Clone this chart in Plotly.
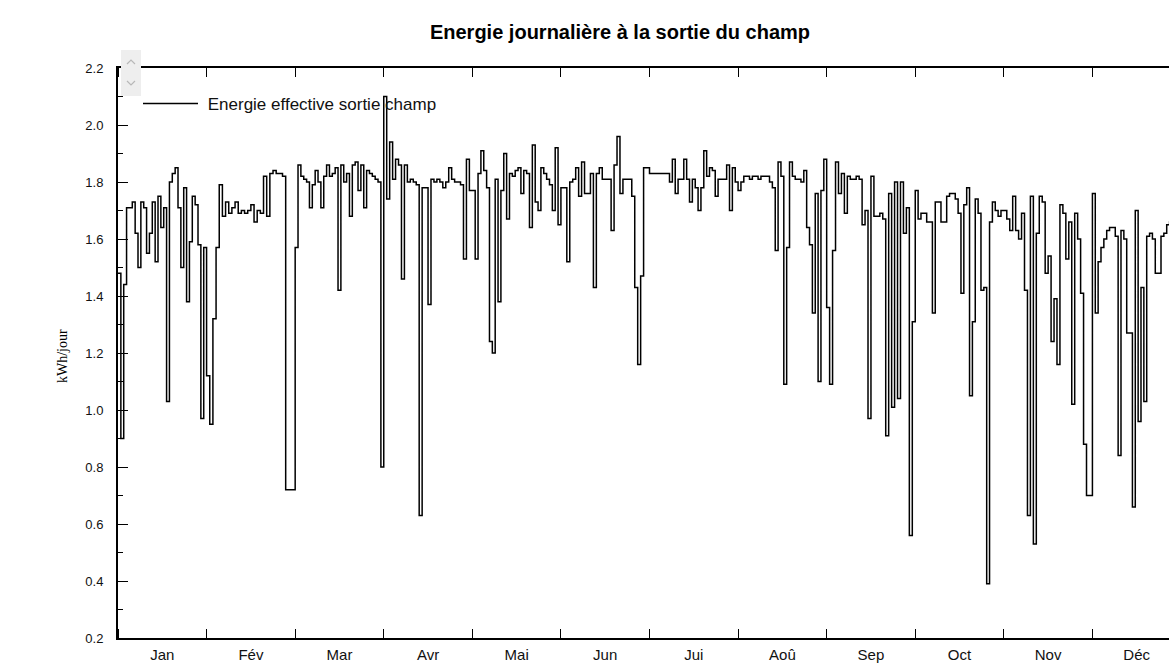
import plotly.graph_objects as go

# Daily field output energy (kWh/jour), one list per month
months = ["Jan", "Fév", "Mar", "Avr", "Mai", "Jun", "Jui", "Aoû", "Sep", "Oct", "Nov", "Déc"]

jan = [1.48, 0.90, 1.44, 1.71, 1.71, 1.73, 1.62, 1.50, 1.73, 1.71, 1.55, 1.62, 1.73, 1.52, 1.75, 1.64,
       1.71, 1.03, 1.80, 1.83, 1.85, 1.71, 1.50, 1.78, 1.38, 1.59, 1.75, 1.72, 1.58, 0.97, 1.57]
feb = [1.12, 0.95, 1.32, 1.57, 1.79, 1.68, 1.73, 1.69, 1.71, 1.73, 1.69, 1.70, 1.69, 1.70, 1.72, 1.66,
       1.70, 1.69, 1.82, 1.68, 1.83, 1.84, 1.83, 1.83, 1.82, 0.72, 0.72, 0.72]
mar = [1.57, 1.86, 1.82, 1.81, 1.80, 1.71, 1.79, 1.84, 1.80, 1.71, 1.82, 1.86, 1.82, 1.83, 1.85, 1.42,
       1.86, 1.80, 1.83, 1.68, 1.86, 1.87, 1.77, 1.86, 1.71, 1.84, 1.83, 1.82, 1.81, 1.80, 0.80]
apr = [2.10, 1.74, 1.94, 1.81, 1.88, 1.86, 1.46, 1.86, 1.80, 1.81, 1.80, 1.79, 0.63, 1.78, 1.78, 1.37,
       1.81, 1.80, 1.81, 1.80, 1.78, 1.80, 1.85, 1.81, 1.80, 1.80, 1.79, 1.53, 1.88, 1.77]
may = [1.77, 1.53, 1.83, 1.91, 1.84, 1.78, 1.24, 1.20, 1.81, 1.38, 1.77, 1.90, 1.67, 1.83, 1.82, 1.84,
       1.85, 1.76, 1.84, 1.83, 1.64, 1.93, 1.73, 1.70, 1.85, 1.83, 1.81, 1.79, 1.70, 1.92, 1.65]
jun = [1.78, 1.78, 1.52, 1.80, 1.81, 1.85, 1.75, 1.87, 1.76, 1.76, 1.83, 1.43, 1.83, 1.85, 1.81, 1.81,
       1.81, 1.63, 1.86, 1.96, 1.76, 1.81, 1.81, 1.81, 1.75, 1.43, 1.16, 1.47, 1.85, 1.85]
jul = [1.83, 1.83, 1.83, 1.83, 1.83, 1.83, 1.83, 1.80, 1.88, 1.76, 1.81, 1.81, 1.88, 1.81, 1.73, 1.81,
       1.78, 1.70, 1.78, 1.91, 1.82, 1.85, 1.84, 1.75, 1.81, 1.81, 1.81, 1.86, 1.70, 1.85, 1.80]
aug = [1.77, 1.80, 1.82, 1.82, 1.81, 1.82, 1.82, 1.81, 1.82, 1.82, 1.82, 1.80, 1.78, 1.56, 1.87, 1.82,
       1.09, 1.57, 1.87, 1.82, 1.81, 1.81, 1.80, 1.84, 1.64, 1.58, 1.34, 1.76, 1.10, 1.77, 1.88]
sep = [1.36, 1.09, 1.56, 1.87, 1.76, 1.83, 1.69, 1.82, 1.81, 1.81, 1.82, 1.81, 1.65, 1.70, 0.97, 1.82,
       1.68, 1.68, 1.69, 1.67, 0.91, 1.76, 1.01, 1.80, 1.04, 1.80, 1.62, 1.71, 0.56, 1.31]
oct_ = [1.77, 1.67, 1.69, 1.69, 1.66, 1.66, 1.34, 1.73, 1.73, 1.66, 1.66, 1.75, 1.76, 1.76, 1.74, 1.69,
        1.41, 1.72, 1.78, 1.05, 1.31, 1.74, 1.69, 1.42, 1.43, 0.39, 1.66, 1.73, 1.70, 1.68, 1.70]
nov = [1.70, 1.67, 1.63, 1.75, 1.63, 1.60, 1.69, 1.42, 0.63, 1.75, 0.53, 1.62, 1.75, 1.73, 1.48, 1.54,
       1.24, 1.39, 1.16, 1.72, 1.69, 1.53, 1.66, 1.02, 1.69, 1.60, 1.41, 0.88, 0.70, 0.70]
dec = [1.76, 1.34, 1.52, 1.57, 1.60, 1.63, 1.64, 1.64, 1.61, 0.84, 1.63, 1.60, 1.27, 1.27, 0.66, 1.70,
       0.96, 1.43, 1.03, 1.61, 1.62, 1.60, 1.48, 1.48, 1.61, 1.62, 1.65, 1.66, 1.64, 1.65, 1.66]

daily = [jan, feb, mar, apr, may, jun, jul, aug, sep, oct_, nov, dec]

# x in "month units": every month gets the same width on the axis
x, y = [], []
for m, vals in enumerate(daily):
    n = len(vals)
    for i, v in enumerate(vals):
        x.append(m + i / n)
        y.append(v)
x.append(len(daily))
y.append(daily[-1][-1])

FONT = "Arial, Liberation Sans, sans-serif"

fig = go.Figure()
fig.add_trace(go.Scatter(
    x=x, y=y, mode="lines", name="\u00a0Energie effective sortie champ",
    line=dict(color="black", width=1.5, shape="hv"),
))

# plot area in pixels: left 118, right 1169, top 68, bottom 638
L, R, T, B = 118, 1169, 68, 638
def px(xp, yp):
    return (xp - L) / (R - L), (B - yp) / (B - T)

shapes = []
x0, y0 = px(121, 50)
x1, y1 = px(141, 96)
shapes.append(dict(type="rect", xref="paper", yref="paper", x0=x0, y0=y0, x1=x1, y1=y1,
                   fillcolor="#eeeeee", line=dict(width=0), layer="above"))
for pts in ([(127, 64), (131, 60), (135, 64)], [(127, 81), (131, 85), (135, 81)]):
    p = [px(a, b) for a, b in pts]
    path = "M{},{} L{},{} L{},{}".format(p[0][0], p[0][1], p[1][0], p[1][1], p[2][0], p[2][1])
    shapes.append(dict(type="path", xref="paper", yref="paper", path=path,
                       line=dict(color="#b8b8b8", width=1.2), layer="above"))

fig.update_layout(
    width=1170, height=664,
    margin=dict(l=L, r=1170 - R, t=T, b=664 - B),
    paper_bgcolor="white", plot_bgcolor="white",
    font=dict(family=FONT, size=13, color="#111"),
    title=dict(text="<b>Energie journalière à la sortie du champ</b>", font=dict(size=20, color="black"),
               x=620 / 1170, xref="container", xanchor="center",
               y=1 - 32 / 664, yref="container", yanchor="middle"),
    showlegend=True,
    legend=dict(x=px(138, 0)[0], y=px(0, 104)[1], xanchor="left", yanchor="middle",
                bgcolor="rgba(0,0,0,0)", itemwidth=55, font=dict(size=17, color="#111")),
    shapes=shapes,
    annotations=[dict(text="kWh/jour", textangle=-90, xref="paper", yref="paper",
                      x=px(62, 0)[0], y=px(0, 356)[1], xanchor="center", yanchor="middle",
                      showarrow=False,
                      font=dict(family="Liberation Serif, Times New Roman, serif", size=14, color="black"))],
)

fig.update_xaxes(
    range=[0, (R - L) / ((1181 - L) / 12)],
    tickvals=[m + 0.5 for m in range(12)], ticktext=months, ticks="",
    tickfont=dict(size=15),
    minor=dict(tick0=0, dtick=1, ticks="inside", ticklen=9, tickwidth=1, tickcolor="black", showgrid=False),
    showline=True, linewidth=2, linecolor="black", mirror="ticks",
    showgrid=False, zeroline=False, fixedrange=True, ticklabelstandoff=2,
)
fig.update_yaxes(
    range=[0.2, 2.2], tick0=0.2, dtick=0.2, tickformat=".1f",
    ticks="inside", ticklen=10, tickwidth=1, tickcolor="black",
    minor=dict(dtick=0.1, ticks="inside", ticklen=5, tickwidth=1, tickcolor="black", showgrid=False),
    showline=True, linewidth=2, linecolor="black",
    showgrid=False, zeroline=False, ticklabelstandoff=10,
)
# mirrored little ticks on the right side, without an axis line
fig.update_layout(yaxis2=dict(overlaying="y", side="right", anchor="x", range=[0.2, 2.2], tick0=0.2, dtick=0.2,
                              ticks="inside", ticklen=3, tickcolor="#444", showline=False,
                              showticklabels=False, showgrid=False, zeroline=False))

fig.write_html("out.html", config=dict(displayModeBar=False),
               post_script="document.body.style.margin='0';document.body.style.overflow='hidden';")
